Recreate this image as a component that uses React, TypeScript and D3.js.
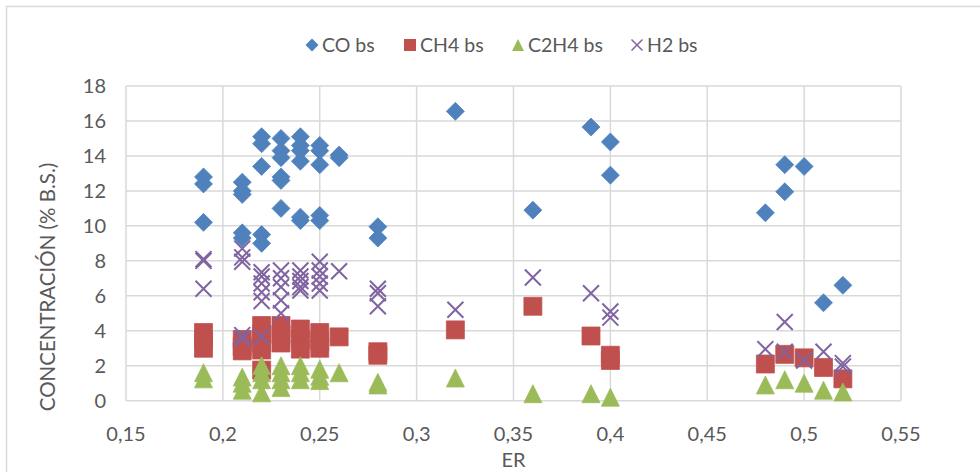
import React, { useEffect, useRef } from 'react';
import * as d3 from 'd3';

// [ER, concentración] por serie
const coPoints: [number, number][] = [
  [0.19, 12.8], [0.19, 12.4], [0.19, 10.2],
  [0.21, 12.5], [0.21, 12.0], [0.21, 11.8], [0.21, 9.6], [0.21, 9.3],
  [0.22, 15.1], [0.22, 14.7], [0.22, 13.4], [0.22, 9.5], [0.22, 9.0],
  [0.23, 15.0], [0.23, 14.3], [0.23, 13.9], [0.23, 12.8], [0.23, 12.6], [0.23, 11.0],
  [0.24, 15.1], [0.24, 14.6], [0.24, 14.3], [0.24, 13.7], [0.24, 10.5], [0.24, 10.3],
  [0.25, 14.6], [0.25, 14.3], [0.25, 13.5], [0.25, 10.6], [0.25, 10.3],
  [0.26, 14.05], [0.26, 13.9],
  [0.28, 9.95], [0.28, 9.3],
  [0.32, 16.55],
  [0.36, 10.9],
  [0.39, 15.65],
  [0.4, 14.8], [0.4, 12.9],
  [0.48, 10.75],
  [0.49, 13.5], [0.49, 11.95],
  [0.5, 13.4],
  [0.51, 5.6],
  [0.52, 6.6],
];

const ch4Points: [number, number][] = [
  [0.19, 3.9], [0.19, 3.5], [0.19, 3.0],
  [0.21, 3.5], [0.21, 3.1], [0.21, 2.85],
  [0.22, 4.3], [0.22, 3.8], [0.22, 3.3], [0.22, 2.9], [0.22, 1.75],
  [0.23, 4.3], [0.23, 3.8], [0.23, 3.3],
  [0.24, 4.1], [0.24, 3.5], [0.24, 2.95],
  [0.25, 3.9], [0.25, 3.4], [0.25, 3.0],
  [0.26, 3.65],
  [0.28, 2.8], [0.28, 2.6],
  [0.32, 4.05],
  [0.36, 5.4],
  [0.39, 3.7],
  [0.4, 2.6], [0.4, 2.3],
  [0.48, 2.1],
  [0.49, 2.65],
  [0.5, 2.45],
  [0.51, 1.9],
  [0.52, 1.25],
];

const c2h4Points: [number, number][] = [
  [0.19, 1.6], [0.19, 1.25],
  [0.21, 1.35], [0.21, 1.0], [0.21, 0.6],
  [0.22, 2.0], [0.22, 1.6], [0.22, 1.2], [0.22, 0.45],
  [0.23, 2.0], [0.23, 1.6], [0.23, 1.2], [0.23, 0.75],
  [0.24, 2.0], [0.24, 1.6], [0.24, 1.2],
  [0.25, 1.8], [0.25, 1.4], [0.25, 1.15],
  [0.26, 1.6],
  [0.28, 1.05], [0.28, 0.9],
  [0.32, 1.3],
  [0.36, 0.4],
  [0.39, 0.4],
  [0.4, 0.2],
  [0.48, 0.9],
  [0.49, 1.2],
  [0.5, 1.0],
  [0.51, 0.6],
  [0.52, 0.5],
];

const h2Points: [number, number][] = [
  [0.19, 8.1], [0.19, 8.0], [0.19, 6.4],
  [0.21, 8.7], [0.21, 8.2], [0.21, 7.95], [0.21, 3.75], [0.21, 3.55],
  [0.22, 7.35], [0.22, 7.1], [0.22, 6.7], [0.22, 6.2], [0.22, 5.7], [0.22, 3.65],
  [0.23, 7.45], [0.23, 7.0], [0.23, 6.5], [0.23, 5.75], [0.23, 5.0],
  [0.24, 7.45], [0.24, 7.1], [0.24, 6.85], [0.24, 6.5], [0.24, 6.3],
  [0.25, 7.95], [0.25, 7.45], [0.25, 7.1], [0.25, 6.7], [0.25, 6.3],
  [0.26, 7.4],
  [0.28, 6.4], [0.28, 6.15], [0.28, 5.4],
  [0.32, 5.2],
  [0.36, 7.05],
  [0.39, 6.15],
  [0.4, 5.1], [0.4, 4.75],
  [0.48, 2.95],
  [0.49, 4.5], [0.49, 2.8],
  [0.5, 2.3],
  [0.51, 2.8],
  [0.52, 2.15], [0.52, 1.95],
];

const seriesNames = ['CO bs', 'CH4 bs', 'C2H4 bs', 'H2 bs'];
const xTicks = [0.15, 0.2, 0.25, 0.3, 0.35, 0.4, 0.45, 0.5, 0.55];
const yTicks = [0, 2, 4, 6, 8, 10, 12, 14, 16, 18];

const W = 980;
const H = 472;
const FONT = 'Lato, "Open Sans", sans-serif';
const TEXT = '#595959';
const GRID = '#D9D9D9';

type Shape = 'diamond' | 'square' | 'triangle' | 'x';

function markerPath(shape: Shape, s: number): string {
  const h = s / 2;
  switch (shape) {
    case 'diamond':
      return `M0,${-h}L${h},0L0,${h}L${-h},0Z`;
    case 'square':
      return `M${-h},${-h}H${h}V${h}H${-h}Z`;
    case 'triangle':
      return `M0,${-h}L${h},${h}H${-h}Z`;
    default:
      return `M${-h},${-h}L${h},${h}M${h},${-h}L${-h},${h}`;
  }
}

export default function App() {
  const svgRef = useRef<SVGSVGElement>(null);

  useEffect(() => {
    if (!svgRef.current) return;
    const svg = d3.select(svgRef.current);
    svg.selectAll('*').remove();

    const margin = { left: 126, right: W - 901, top: 86, bottom: H - 400.7 };

    const x = d3.scaleLinear().domain([0.15, 0.55]).range([margin.left, W - margin.right]);
    const y = d3.scaleLinear().domain([0, 18]).range([H - margin.bottom, margin.top]);

    // chart border
    svg.append('rect')
      .attr('x', 6.5).attr('y', 6.5)
      .attr('width', W + 20).attr('height', H + 20)
      .attr('fill', '#fff').attr('stroke', GRID).attr('stroke-width', 1.5);

    // grid
    svg.append('g').selectAll('line').data(yTicks).enter().append('line')
      .attr('x1', x(0.15)).attr('x2', x(0.55))
      .attr('y1', d => y(d)).attr('y2', d => y(d))
      .attr('stroke', GRID).attr('stroke-width', 1.5);
    svg.append('g').selectAll('line').data(xTicks).enter().append('line')
      .attr('x1', d => x(d)).attr('x2', d => x(d))
      .attr('y1', y(0)).attr('y2', y(18))
      .attr('stroke', GRID).attr('stroke-width', 1.5);

    // tick labels
    svg.append('g').selectAll('text').data(yTicks).enter().append('text')
      .attr('x', 106).attr('y', d => y(d)).attr('dy', '0.35em')
      .attr('text-anchor', 'end').attr('fill', TEXT)
      .attr('font-family', FONT).attr('font-size', 20)
      .text(d => String(d));
    svg.append('g').selectAll('text').data(xTicks).enter().append('text')
      .attr('x', d => x(d)).attr('y', 441)
      .attr('text-anchor', 'middle').attr('fill', TEXT)
      .attr('font-family', FONT).attr('font-size', 20)
      .text(d => String(+d.toFixed(2)).replace('.', ','));

    // axis titles
    svg.append('text')
      .attr('x', (x(0.15) + x(0.55)) / 2).attr('y', 467)
      .attr('text-anchor', 'middle').attr('fill', TEXT)
      .attr('font-family', FONT).attr('font-size', 20)
      .text('ER');
    svg.append('text')
      .attr('transform', 'translate(55,287) rotate(-90)')
      .attr('text-anchor', 'middle').attr('fill', TEXT)
      .attr('font-family', FONT).attr('font-size', 20.5)
      .text('CONCENTRACIÓN (% B.S.)');

    const series: { name: string; data: [number, number][]; color: string; shape: Shape }[] = [
      { name: seriesNames[0], data: coPoints, color: '#4F81BD', shape: 'diamond' },
      { name: seriesNames[1], data: ch4Points, color: '#C0504D', shape: 'square' },
      { name: seriesNames[2], data: c2h4Points, color: '#9BBB59', shape: 'triangle' },
      { name: seriesNames[3], data: h2Points, color: '#8064A2', shape: 'x' },
    ];

    series.forEach(s => {
      const isX = s.shape === 'x';
      svg.append('g').selectAll('path').data(s.data).enter().append('path')
        .attr('transform', d => `translate(${x(d[0])},${y(d[1])})`)
        .attr('d', markerPath(s.shape, isX ? 16 : 18))
        .attr('fill', isX ? 'none' : s.color)
        .attr('stroke', s.color)
        .attr('stroke-width', isX ? 2 : 0.75)
        .attr('stroke-linejoin', 'round');
    });

    // legend
    const legendX = [312, 410, 518, 637];
    const legend = svg.append('g');
    series.forEach((s, i) => {
      const isX = s.shape === 'x';
      legend.append('path')
        .attr('transform', `translate(${legendX[i]},45)`)
        .attr('d', markerPath(s.shape, isX ? 11 : s.shape === 'diamond' ? 13 : 12))
        .attr('fill', isX ? 'none' : s.color)
        .attr('stroke', s.color)
        .attr('stroke-width', isX ? 1.5 : 0);
      legend.append('text')
        .attr('x', legendX[i] + 10).attr('y', 45).attr('dy', '0.35em')
        .attr('fill', TEXT).attr('font-family', FONT).attr('font-size', 19.5)
        .text(s.name);
    });
  }, []);

  return (
    <div style={{ position: 'fixed', left: 0, top: 0, width: W, height: H, background: '#fff' }}>
      <svg ref={svgRef} width={W} height={H} style={{ display: 'block' }} />
    </div>
  );
}
